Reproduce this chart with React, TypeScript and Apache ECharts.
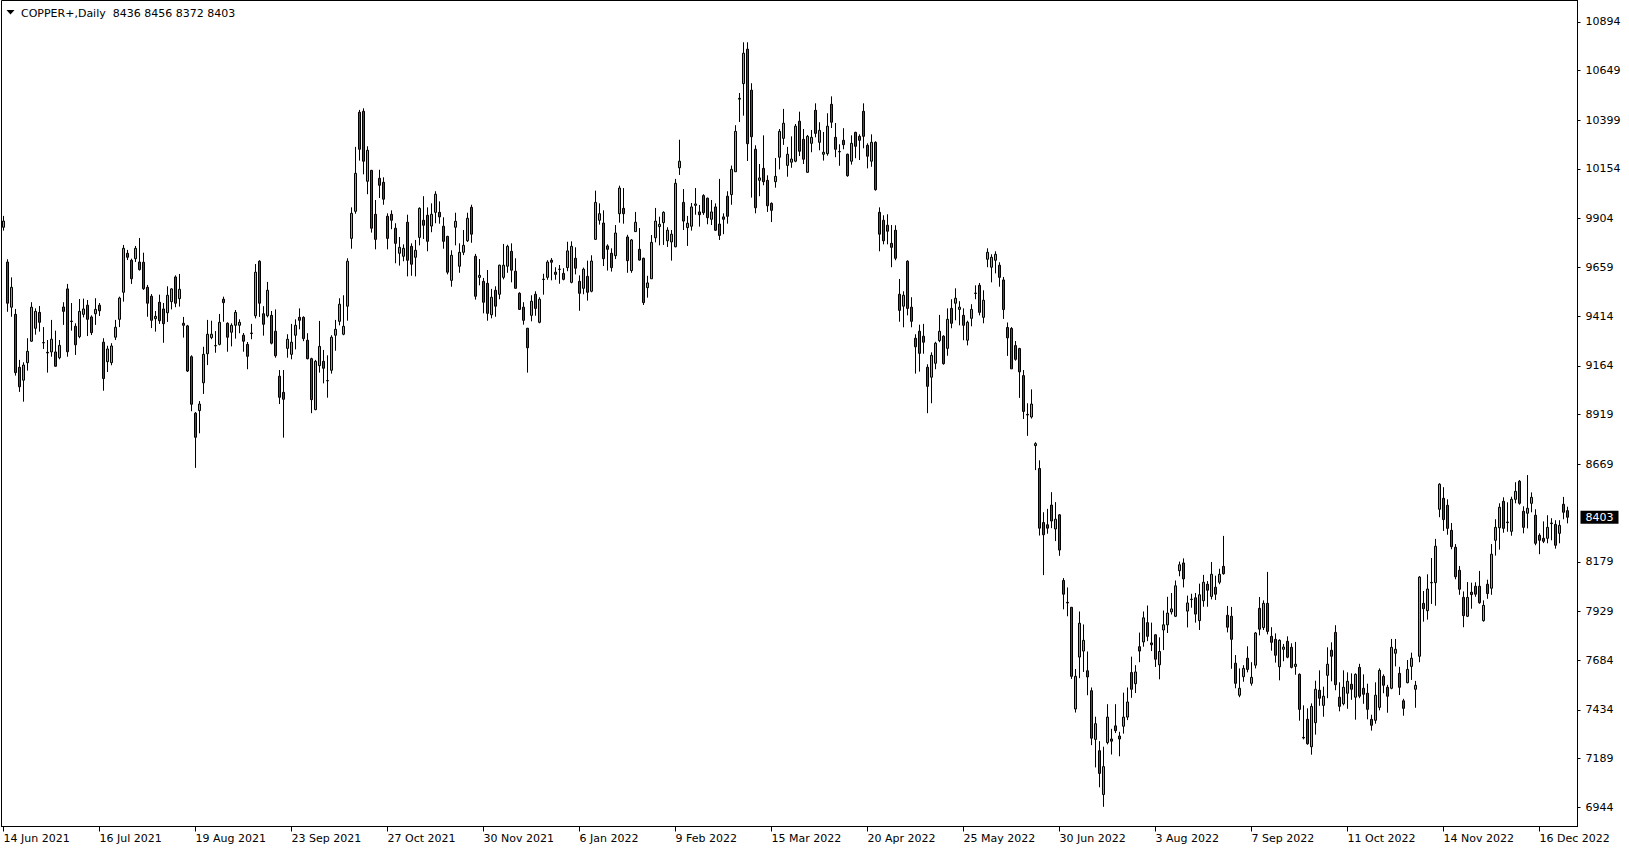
import React, { useEffect, useRef } from "react";
import * as echarts from "echarts";

const symbolName = "COPPER+,Daily";

const dateLabels = [
  "14 Jun 2021", "16 Jul 2021", "19 Aug 2021", "23 Sep 2021", "27 Oct 2021",
  "30 Nov 2021", "6 Jan 2022", "9 Feb 2022", "15 Mar 2022", "20 Apr 2022",
  "25 May 2022", "30 Jun 2022", "3 Aug 2022", "7 Sep 2022", "11 Oct 2022",
  "14 Nov 2022", "16 Dec 2022",
];
const labelEvery = 24;

const priceTicks = [
  6944, 7189, 7434, 7684, 7929, 8179, 8669, 8919, 9164, 9414, 9659, 9904,
  10154, 10399, 10649, 10894,
];
const priceMin = 6848;
const priceMax = 11001;
const slotCount = 394;

// each bar: [open, high, low, close]
const barsA = [
  [9861, 9918, 9844, 9892], [9686, 9700, 9436, 9479], [9459, 9609, 9411, 9559], [9423, 9450, 9115, 9130],
  [9157, 9194, 9033, 9059], [9092, 9182, 8984, 9168], [9180, 9303, 9140, 9237], [9288, 9484, 9285, 9459],
  [9353, 9453, 9321, 9438], [9433, 9465, 9336, 9383], [9281, 9359, 9249, 9280], [9232, 9294, 9130, 9229],
  [9234, 9395, 9210, 9298], [9234, 9341, 9160, 9162], [9205, 9294, 9197, 9267], [9460, 9484, 9370, 9438],
  [9551, 9576, 9210, 9235], [9389, 9480, 9341, 9387], [9363, 9378, 9219, 9270], [9311, 9500, 9303, 9438],
  [9423, 9502, 9408, 9450], [9469, 9495, 9314, 9398], [9410, 9418, 9319, 9331], [9426, 9504, 9370, 9448],
  [9469, 9480, 9415, 9441], [9283, 9303, 9039, 9100], [9185, 9265, 9133, 9249], [9180, 9278, 9167, 9264],
  [9308, 9395, 9294, 9358], [9398, 9512, 9359, 9505], [9534, 9772, 9487, 9755], [9730, 9747, 9696, 9710],
  [9695, 9703, 9576, 9602], [9703, 9767, 9686, 9755], [9686, 9807, 9643, 9648], [9685, 9733, 9546, 9552],
  [9559, 9571, 9411, 9479], [9514, 9525, 9354, 9393], [9401, 9440, 9336, 9413], [9484, 9522, 9375, 9391],
  [9450, 9480, 9280, 9376], [9431, 9564, 9385, 9519], [9487, 9554, 9448, 9551], [9611, 9619, 9459, 9479],
  [9502, 9626, 9462, 9549], [9378, 9410, 9306, 9368], [9365, 9370, 9133, 9138], [9210, 9217, 8936, 8971],
  [8926, 8932, 8651, 8805], [8939, 8987, 8825, 8972],
];
const barsB = [
  [9079, 9260, 9023, 9222], [9225, 9395, 9168, 9323], [9306, 9391, 9298, 9323], [9266, 9339, 9230, 9265],
  [9272, 9425, 9267, 9383], [9499, 9512, 9386, 9482], [9378, 9383, 9235, 9308], [9333, 9378, 9262, 9368],
  [9368, 9445, 9301, 9433], [9368, 9398, 9328, 9383], [9318, 9329, 9235, 9288], [9272, 9284, 9147, 9212],
  [9329, 9375, 9298, 9327], [9416, 9676, 9403, 9635], [9690, 9695, 9410, 9479], [9426, 9464, 9316, 9373],
  [9416, 9586, 9408, 9544], [9418, 9440, 9272, 9278], [9338, 9448, 9205, 9215], [9112, 9143, 8972, 9006],
  [9031, 9143, 8803, 8996], [9252, 9323, 9205, 9298], [9222, 9375, 9197, 9283], [9318, 9398, 9247, 9368],
  [9408, 9453, 9348, 9393], [9408, 9413, 9288, 9301], [9293, 9328, 9197, 9200], [9200, 9205, 8926, 8994],
  [8944, 9194, 8941, 9187], [9165, 9390, 9130, 9262], [9187, 9244, 9076, 9152], [9090, 9217, 9004, 9089],
  [9142, 9318, 9125, 9308], [9318, 9395, 9240, 9348], [9388, 9504, 9368, 9474], [9323, 9519, 9318, 9363],
  [9464, 9705, 9391, 9690], [9805, 9961, 9753, 9931], [9941, 10265, 9929, 10132], [10439, 10451, 10196, 10253],
  [10444, 10459, 10127, 10193], [10092, 10268, 10027, 10248], [10147, 10149, 9834, 9856], [9926, 9998, 9750, 9800],
  [10107, 10150, 10008, 10072], [10087, 10112, 9974, 10002], [9916, 9931, 9750, 9805], [9926, 9946, 9851, 9896],
  [9856, 9881, 9680, 9780], [9730, 9812, 9668, 9760],
];
const barsC = [
  [9715, 9775, 9690, 9755], [9886, 9924, 9614, 9695], [9765, 9780, 9617, 9675], [9710, 9797, 9614, 9745],
  [9810, 9961, 9770, 9956], [9896, 10017, 9802, 9871], [9921, 9961, 9740, 9790], [9867, 9981, 9836, 9926],
  [9936, 10042, 9881, 10027], [9936, 9991, 9879, 9913], [9866, 9911, 9753, 9790], [9815, 9818, 9624, 9635],
  [9594, 9745, 9562, 9720], [9861, 9934, 9770, 9891], [9665, 9780, 9632, 9735], [9735, 9847, 9721, 9770],
  [9793, 9934, 9787, 9906], [9961, 9974, 9783, 9826], [9715, 9727, 9497, 9514], [9609, 9701, 9569, 9619],
  [9589, 9606, 9428, 9484], [9579, 9646, 9391, 9428], [9421, 9551, 9403, 9509], [9544, 9564, 9411, 9464],
  [9524, 9673, 9499, 9670], [9609, 9777, 9599, 9670], [9665, 9773, 9632, 9765], [9740, 9780, 9584, 9645],
  [9640, 9705, 9552, 9554], [9529, 9534, 9445, 9448], [9459, 9484, 9371, 9393], [9353, 9355, 9130, 9255],
  [9418, 9519, 9388, 9489], [9524, 9539, 9416, 9453], [9383, 9509, 9378, 9499], [9598, 9627, 9522, 9600],
  [9609, 9695, 9597, 9686], [9695, 9706, 9594, 9685], [9635, 9660, 9597, 9624], [9649, 9671, 9577, 9650],
  [9629, 9655, 9594, 9599], [9658, 9788, 9640, 9742], [9584, 9790, 9579, 9765], [9705, 9760, 9624, 9655],
  [9589, 9619, 9441, 9529], [9554, 9658, 9524, 9650], [9614, 9693, 9492, 9534], [9539, 9720, 9534, 9691],
  [9800, 10045, 9797, 9986], [9896, 9981, 9874, 9929],
];
const barsD = [
  [9882, 9946, 9666, 9703], [9767, 9775, 9643, 9750], [9730, 9755, 9638, 9658], [9718, 9872, 9701, 9832],
  [9929, 10070, 9884, 10058], [9956, 10058, 9879, 9929], [9812, 9823, 9632, 9693], [9643, 9802, 9632, 9797],
  [9839, 9938, 9839, 9886], [9750, 9857, 9693, 9696], [9705, 9708, 9470, 9482], [9557, 9617, 9507, 9581],
  [9602, 9822, 9602, 9785], [9808, 9958, 9785, 9892], [9864, 9914, 9770, 9876], [9884, 9941, 9772, 9936],
  [9793, 9861, 9762, 9846], [9787, 9847, 9693, 9826], [9763, 10104, 9760, 10082], [10160, 10301, 10124, 10193],
  [9986, 10053, 9847, 9892], [9859, 9918, 9767, 9881], [9866, 9983, 9844, 9963], [9971, 10058, 9924, 9978],
  [9938, 9973, 9864, 9924], [10020, 10027, 9923, 9934], [10007, 10010, 9876, 9909], [9901, 9998, 9872, 9938],
  [9963, 9981, 9842, 9846], [9877, 10104, 9797, 9820], [9913, 9931, 9826, 9901], [10017, 10042, 9879, 9916],
  [10025, 10171, 9974, 10152], [10140, 10374, 10140, 10343], [10505, 10536, 10390, 10509], [10583, 10791, 10422, 10736],
  [10756, 10791, 10194, 10281], [10550, 10585, 10010, 10316], [10253, 10273, 9931, 9959], [10097, 10179, 10017, 10109],
  [10157, 10323, 10072, 10090], [10097, 10122, 9938, 9969], [9981, 9986, 9887, 9946], [10090, 10209, 10060, 10117],
  [10213, 10355, 10152, 10343], [10308, 10456, 10275, 10384], [10172, 10265, 10115, 10228], [10188, 10318, 10160, 10204],
  [10193, 10380, 10188, 10369], [10394, 10442, 10219, 10243],
];
const barsE = [
  [10303, 10355, 10179, 10203], [10137, 10325, 10135, 10318], [10283, 10350, 10238, 10313], [10449, 10484, 10313, 10333],
  [10288, 10389, 10248, 10348], [10228, 10340, 10196, 10238], [10231, 10434, 10221, 10369], [10479, 10519, 10360, 10389],
  [10313, 10385, 10213, 10253], [10240, 10278, 10170, 10242], [10298, 10359, 10253, 10276], [10228, 10231, 10115, 10120],
  [10193, 10323, 10176, 10283], [10338, 10341, 10208, 10268], [10318, 10328, 10199, 10298], [10444, 10484, 10258, 10318],
  [10273, 10283, 10157, 10218], [10193, 10328, 10165, 10288], [10288, 10293, 10045, 10050], [9936, 9961, 9740, 9826],
  [9896, 9921, 9775, 9793], [9871, 9926, 9775, 9841], [9780, 9872, 9660, 9760], [9846, 9871, 9695, 9705],
  [9524, 9601, 9386, 9443], [9464, 9539, 9358, 9519], [9690, 9695, 9418, 9453], [9459, 9509, 9358, 9388],
  [9303, 9323, 9125, 9260], [9338, 9371, 9135, 9227], [9313, 9375, 9225, 9283], [9157, 9172, 8926, 9061],
  [9107, 9232, 8976, 9217], [9177, 9285, 9147, 9278], [9291, 9420, 9283, 9338], [9313, 9318, 9170, 9175],
  [9252, 9453, 9215, 9398], [9453, 9499, 9353, 9378], [9479, 9554, 9393, 9504], [9448, 9489, 9368, 9459],
  [9418, 9453, 9293, 9368], [9293, 9391, 9267, 9383], [9403, 9474, 9363, 9448], [9528, 9569, 9499, 9530],
  [9569, 9581, 9418, 9433], [9408, 9544, 9378, 9494], [9700, 9755, 9660, 9735], [9660, 9725, 9584, 9710],
  [9695, 9740, 9629, 9725], [9670, 9685, 9562, 9609],
];
const barsF = [
  [9596, 9611, 9400, 9447], [9357, 9382, 9214, 9305], [9352, 9359, 9149, 9149], [9266, 9289, 9190, 9197],
  [9251, 9255, 9003, 9134], [9115, 9143, 8897, 8935], [8920, 8976, 8812, 8917], [8907, 9046, 8899, 8972],
  [8763, 8780, 8640, 8773], [8648, 8689, 8311, 8348], [8376, 8428, 8112, 8315], [8365, 8445, 8320, 8348],
  [8464, 8529, 8348, 8384], [8344, 8479, 8283, 8393], [8415, 8419, 8209, 8238], [8085, 8097, 7940, 8016],
  [7975, 8050, 7905, 7972], [7950, 7952, 7590, 7603], [7439, 7640, 7421, 7603], [7700, 7929, 7594, 7870],
  [7730, 7864, 7625, 7784], [7631, 7728, 7508, 7600], [7531, 7547, 7257, 7292], [7286, 7400, 7145, 7365],
  [7229, 7277, 7045, 7115], [7009, 7249, 6947, 7149], [7270, 7463, 7261, 7398], [7288, 7339, 7210, 7277],
  [7354, 7463, 7318, 7330], [7303, 7324, 7201, 7288], [7352, 7521, 7315, 7398], [7398, 7547, 7383, 7474],
  [7622, 7702, 7495, 7538], [7566, 7659, 7519, 7625], [7752, 7823, 7674, 7730], [7776, 7929, 7752, 7897],
  [7873, 7959, 7780, 7804], [7771, 7873, 7730, 7762], [7812, 7814, 7650, 7689], [7661, 7799, 7588, 7728],
  [7836, 7934, 7735, 7862], [7862, 8003, 7821, 7921], [7927, 8022, 7914, 7942], [7905, 8085, 7901, 8058],
  [8134, 8180, 8106, 8164], [8173, 8196, 8050, 8093], [7931, 8009, 7849, 7972], [7989, 8018, 7948, 7991],
  [7998, 8022, 7873, 7916], [7883, 8069, 7836, 8013],
];
const barsG = [
  [7983, 8113, 7953, 8076], [8066, 8082, 7953, 8036], [8005, 8178, 7990, 8116], [8051, 8109, 7987, 8016],
  [8076, 8144, 8066, 8116], [8156, 8309, 8114, 8119], [7910, 7957, 7824, 7850], [7905, 7952, 7641, 7789],
  [7669, 7710, 7543, 7568], [7508, 7643, 7498, 7543], [7601, 7659, 7576, 7643], [7694, 7754, 7623, 7638],
  [7568, 7674, 7556, 7598], [7659, 7826, 7643, 7821], [7945, 8002, 7809, 7840], [7848, 7985, 7836, 7970],
  [7970, 8128, 7814, 7829], [7804, 7850, 7732, 7774], [7789, 7819, 7672, 7709], [7651, 7789, 7583, 7784],
  [7739, 7766, 7679, 7750], [7779, 7804, 7694, 7699], [7749, 7769, 7643, 7648], [7653, 7776, 7611, 7664],
  [7613, 7618, 7380, 7437], [7296, 7457, 7286, 7293], [7387, 7442, 7259, 7264], [7249, 7467, 7209, 7452],
  [7370, 7581, 7310, 7538], [7533, 7633, 7455, 7493], [7457, 7551, 7400, 7503], [7608, 7749, 7493, 7664],
  [7734, 7774, 7578, 7704], [7824, 7860, 7533, 7561], [7498, 7573, 7427, 7452], [7465, 7633, 7457, 7548],
  [7518, 7623, 7440, 7578], [7563, 7618, 7485, 7538], [7498, 7618, 7385, 7613], [7648, 7666, 7493, 7503],
  [7543, 7613, 7465, 7513], [7518, 7566, 7387, 7437], [7387, 7410, 7330, 7357], [7382, 7573, 7365, 7508],
  [7447, 7643, 7432, 7633], [7603, 7613, 7518, 7558], [7548, 7560, 7420, 7503], [7543, 7791, 7538, 7749],
  [7719, 7791, 7653, 7739], [7618, 7651, 7509, 7548],
];
const barsH = [
  [7480, 7490, 7405, 7442], [7571, 7685, 7568, 7638], [7653, 7722, 7585, 7694], [7538, 7580, 7445, 7558],
  [7704, 8107, 7674, 8102], [7970, 8032, 7878, 7943], [7933, 8116, 7888, 8042], [8073, 8198, 7967, 8075],
  [8074, 8294, 7958, 8257], [8443, 8574, 8403, 8569], [8498, 8554, 8334, 8391], [8463, 8493, 8315, 8347],
  [8337, 8374, 8242, 8255], [8252, 8268, 8091, 8104], [8136, 8158, 8013, 8041], [8000, 8030, 7850, 7908],
  [7905, 8077, 7901, 8000], [8026, 8074, 7943, 8014], [8056, 8076, 8003, 8016], [8056, 8133, 7968, 7973],
  [7883, 7985, 7878, 7960], [8066, 8089, 7993, 8019], [8046, 8268, 8013, 8217], [8287, 8393, 8210, 8352],
  [8350, 8473, 8240, 8453], [8483, 8503, 8325, 8347], [8376, 8478, 8330, 8379], [8332, 8506, 8310, 8493],
  [8493, 8579, 8473, 8533], [8584, 8590, 8466, 8473], [8433, 8458, 8322, 8352], [8423, 8615, 8347, 8448],
  [8473, 8528, 8428, 8503], [8413, 8443, 8262, 8272], [8312, 8322, 8217, 8287], [8297, 8382, 8273, 8282],
  [8297, 8413, 8272, 8352], [8371, 8398, 8287, 8374], [8367, 8388, 8245, 8262], [8322, 8388, 8272, 8362],
  [8468, 8505, 8393, 8428], [8436, 8456, 8372, 8403],
];

const allBars = [...barsA, ...barsB, ...barsC, ...barsD, ...barsE, ...barsF, ...barsG, ...barsH];

const FONT = "DejaVu Sans";

export default function App() {
  const ref = useRef<HTMLDivElement>(null);

  useEffect(() => {
    if (!ref.current) return;
    const chart = echarts.init(ref.current, undefined, { renderer: "svg" });

    const categories = Array.from({ length: slotCount }, (_, i) => String(i));
    // echarts candlestick order: [open, close, low, high]
    const seriesData = allBars.map(([o, h, l, c]) => [o, c, l, h]);
    const last = allBars[allBars.length - 1];
    const lastClose = last[3];
    const showIdx = (idx: number) =>
      idx % labelEvery === 0 && idx / labelEvery < dateLabels.length;

    chart.setOption({
      animation: false,
      backgroundColor: "#ffffff",
      grid: {
        left: 1.5,
        top: 0.5,
        width: 1576,
        height: 826,
        show: true,
        borderColor: "#000000",
        borderWidth: 1,
        backgroundColor: "#ffffff",
      },
      xAxis: {
        type: "category",
        data: categories,
        boundaryGap: true,
        axisLine: { show: true, lineStyle: { color: "#000000", width: 1 } },
        axisTick: {
          show: true,
          alignWithLabel: true,
          interval: (idx: number) => showIdx(idx),
          length: 5,
          lineStyle: { color: "#000000" },
        },
        axisLabel: {
          interval: (idx: number) => showIdx(idx),
          formatter: (_v: string, idx: number) =>
            showIdx(idx) ? dateLabels[idx / labelEvery] : "",
          align: "left",
          margin: 6,
          color: "#000000",
          fontFamily: FONT,
          fontSize: 11,
        },
        splitLine: { show: false },
      },
      yAxis: {
        type: "value",
        position: "right",
        min: priceMin,
        max: priceMax,
        axisLine: { show: true, lineStyle: { color: "#000000" } },
        axisTick: {
          show: true,
          customValues: priceTicks,
          length: 3,
          lineStyle: { color: "#000000" },
        },
        axisLabel: {
          customValues: priceTicks,
          formatter: (v: number) => String(Math.round(v)),
          align: "left",
          margin: 8,
          padding: [3, 0, 0, 0],
          color: "#000000",
          fontFamily: FONT,
          fontSize: 11,
        },
        splitLine: { show: false },
      },
      graphic: [
        {
          type: "polygon",
          shape: { points: [[6.5, 10], [14.5, 10], [10.5, 14.5]] },
          style: { fill: "#000000" },
          z: 100,
        },
        {
          type: "text",
          x: 21,
          y: 13.5,
          style: {
            text: `${symbolName}  ${last[0]} ${last[1]} ${last[2]} ${last[3]}`,
            fill: "#000000",
            font: `11px "${FONT}"`,
            textVerticalAlign: "middle",
          },
          z: 100,
        },
      ],
      series: [
        {
          type: "candlestick",
          data: seriesData,
          barWidth: 2,
          itemStyle: {
            color: "#00ff00",
            color0: "#ff0000",
            borderColor: "#000000",
            borderColor0: "#000000",
            borderColorDoji: "#000000",
            borderWidth: 1,
          },
          markLine: {
            silent: true,
            symbol: ["none", "none"],
            lineStyle: { color: "rgba(0,0,0,0)", width: 0 },
            label: {
              show: true,
              position: "end",
              formatter: String(lastClose),
              color: "#ffffff",
              backgroundColor: "#000000",
              padding: [1, 5, 0, 5],
              distance: 3,
              fontFamily: FONT,
              fontSize: 11,
              lineHeight: 12,
            },
            data: [{ yAxis: lastClose }],
          },
        },
      ],
    });

    return () => chart.dispose();
  }, []);

  return (
    <div
      ref={ref}
      style={{ position: "absolute", left: 0, top: 0, width: 1629, height: 850, background: "#fff" }}
    />
  );
}
